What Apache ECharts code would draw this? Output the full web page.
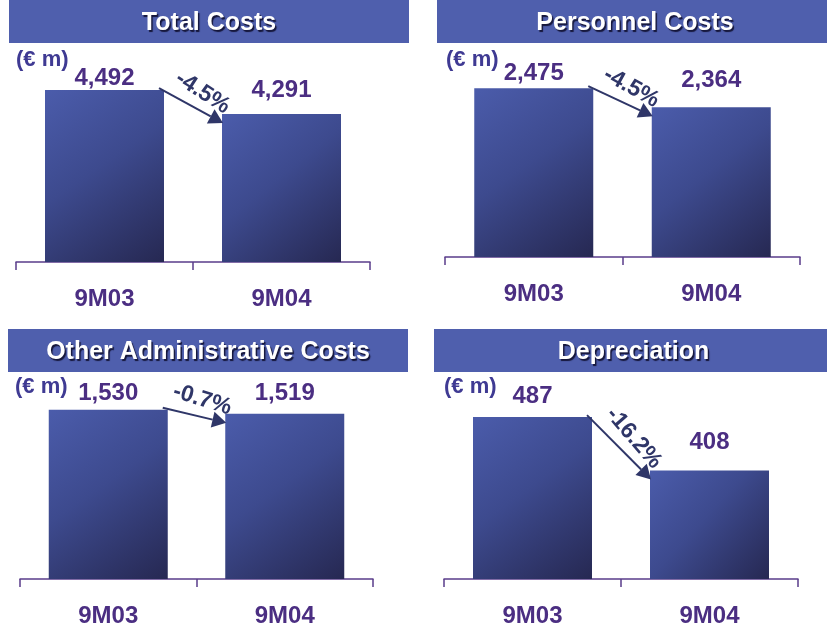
<!DOCTYPE html>
<html>
<head>
<meta charset="utf-8">
<title>Costs 9M03 vs 9M04</title>
<script src="https://cdn.jsdelivr.net/npm/echarts@6/dist/echarts.min.js"></script>
<style>
  html, body {margin: 0; padding: 0; background: #fff;}
  #chart {width: 827px; height: 628px;}
</style>
</head>
<body>
<div id="chart"></div>
<script>
// data
let periods = ['9M03', '9M04'];
let titles = ['Total Costs', 'Personnel Costs', 'Other Administrative Costs', 'Depreciation'];
let totalCosts = [4492, 4291];
let personnelCosts = [2475, 2364];
let otherAdminCosts = [1530, 1519];
let depreciation = [487, 408];
let unitLabel = '(€ m)';

let values = [totalCosts, personnelCosts, otherAdminCosts, depreciation];

// panel layout: header bar [x, y, w, h], plot grid, value axis range, unit text pos, label gaps
let panels = [
  {head: [9, 0, 400, 43], grid: {left: 16, top: 60, width: 354, height: 202}, min: 3052, max: 4744, unit: [16, 60], gap: [0, 12]},
  {head: [437, 0, 390, 43], grid: {left: 445, top: 60, width: 355, height: 197}, min: 1488, max: 2640, unit: [446, 60], gap: [3, 15]},
  {head: [8, 329, 400, 43], grid: {left: 20, top: 380, width: 353, height: 199}, min: 1065, max: 1612, unit: [15, 387], gap: [4, 8]},
  {head: [434, 329, 393, 43], grid: {left: 444, top: 380, width: 354, height: 202}, min: 247, max: 542, unit: [444, 387], gap: [9, 16]}
];

let purple = '#4b2e82';
let navy = '#2f3668';
let labelFont = '"Liberation Sans Narrow", "Arial Narrow", "Liberation Sans", sans-serif';

let barColor = new echarts.graphic.LinearGradient(0, 0, 1, 1, [
  {offset: 0, color: '#4b5cab'},
  {offset: 0.45, color: '#3d4a8e'},
  {offset: 1, color: '#262852'}
]);

let chart = echarts.init(document.getElementById('chart'));

let option = {
  animation: false,
  backgroundColor: '#fff',
  grid: panels.map(function (p) {
    return Object.assign({containLabel: false}, p.grid);
  }),
  xAxis: panels.map(function (p, i) {
    return {
      type: 'category', gridIndex: i, data: periods,
      axisLine: {lineStyle: {color: '#5a3c8a', width: 1.5}},
      axisTick: {show: true, length: 8, lineStyle: {color: '#5a3c8a', width: 1.5}},
      axisLabel: {margin: 25, color: purple, fontFamily: labelFont, fontWeight: 'bold', fontSize: 24}
    };
  }),
  yAxis: panels.map(function (p, i) {
    return {type: 'value', gridIndex: i, min: p.min, max: p.max, show: false, splitLine: {show: false}};
  }),
  series: values.map(function (v, i) {
    return {
      type: 'bar', xAxisIndex: i, yAxisIndex: i, barWidth: 119,
      itemStyle: {color: barColor},
      label: {
        show: true, position: 'top', color: purple, fontFamily: labelFont, fontWeight: 'bold', fontSize: 24,
        formatter: function (d) {
          return d.value.toLocaleString('en-US');
        }
      },
      data: v.map(function (x, j) {
        return {value: x, label: {distance: panels[i].gap[j]}};
      })
    };
  })
};

chart.setOption(option);

// headers, unit text and change arrows
let graphics = [];
panels.forEach(function (p, i) {
  let h = p.head;
  graphics.push({type: 'rect', shape: {x: h[0], y: h[1], width: h[2], height: h[3]}, style: {fill: '#4f5fad'}, z: 1});
  graphics.push({
    type: 'text', x: h[0] + h[2] / 2 + (i % 2 ? 3 : 0), y: h[1] + h[3] / 2 + 2, z: 2,
    style: {
      text: titles[i], align: 'center', verticalAlign: 'middle', fill: '#fff',
      font: 'bold 25px "Liberation Sans", Arial, sans-serif',
      textShadowColor: '#15163a', textShadowOffsetX: 1.5, textShadowOffsetY: 1.5, textShadowBlur: 1
    }
  });
  graphics.push({
    type: 'text', x: p.unit[0], y: p.unit[1], z: 2,
    style: {
      text: unitLabel, align: 'left', verticalAlign: 'middle', fill: '#3f3a93',
      font: 'bold 22px "Liberation Sans", Arial, sans-serif'
    }
  });

  let v = values[i];
  let half = 119 / 2;
  let a = chart.convertToPixel({seriesIndex: i}, [0, v[0]]);
  let b = chart.convertToPixel({seriesIndex: i}, [1, v[1]]);
  let s = [a[0] + half - 5, a[1] - 2];
  let e = [b[0] - half + 1, b[1] + 9];
  let dx = e[0] - s[0];
  let dy = e[1] - s[1];
  let len = Math.sqrt(dx * dx + dy * dy);
  let ux = dx / len;
  let uy = dy / len;
  let hl = 14, hw = 8;
  let base = [e[0] - ux * hl, e[1] - uy * hl];
  graphics.push({
    type: 'line', z: 3,
    shape: {x1: s[0], y1: s[1], x2: base[0], y2: base[1]},
    style: {stroke: navy, lineWidth: 2}
  });
  graphics.push({
    type: 'polygon', z: 3,
    shape: {points: [e, [base[0] - uy * hw, base[1] + ux * hw], [base[0] + uy * hw, base[1] - ux * hw]]},
    style: {fill: navy}
  });
  let pct = ((v[1] - v[0]) / v[0] * 100).toFixed(1) + '%';
  let mx = (s[0] + e[0]) / 2 + ux * 4 + uy * 17;
  let my = (s[1] + e[1]) / 2 + uy * 4 - ux * 17;
  graphics.push({
    type: 'text', x: mx, y: my, z: 3, rotation: -Math.atan2(dy, dx) - 0.07,
    style: {
      text: pct, align: 'center', verticalAlign: 'middle', fill: navy,
      font: 'bold 23px "Liberation Sans", Arial, sans-serif'
    }
  });
});

chart.setOption({graphic: graphics});
</script>
</body>
</html>
